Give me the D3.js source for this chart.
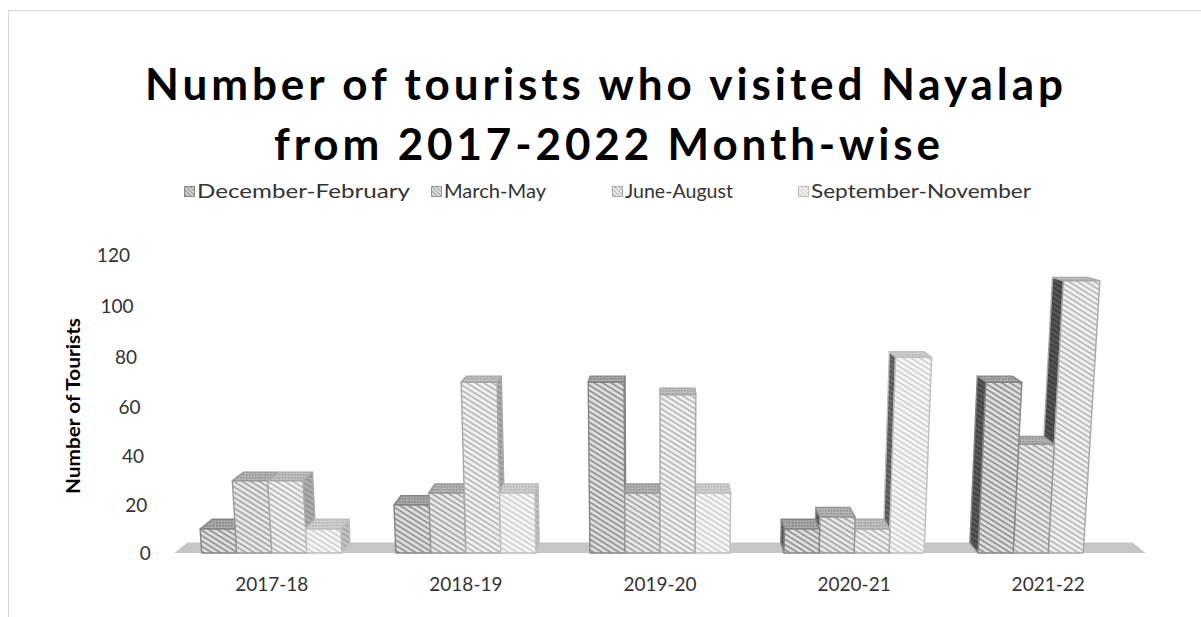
<!DOCTYPE html>
<html>
<head>
<meta charset="utf-8">
<script src="https://cdn.jsdelivr.net/npm/d3@7"></script>
<style>
  body { margin: 0; background: #fff; }
  svg { display: block; }
  text { font-family: Lato, "Open Sans", sans-serif; }
</style>
</head>
<body>
<svg id="chart" width="1201" height="617"></svg>
<script>
// ---- data ----
const categories = ["2017-18", "2018-19", "2019-20", "2020-21", "2021-22"];
const seriesNames = ["December-February", "March-May", "June-August", "September-November"];
const decFeb = [10, 20, 70, 10, 70];
const marMay = [30, 25, 25, 15, 45];
const junAug = [30, 70, 65, 10, 110];
const sepNov = [10, 25, 25, 80, 0];
const yTicks = [0, 20, 40, 60, 80, 100, 120];
const seriesValues = [decFeb, marMay, junAug, sepNov];

// ---- styling per series ----
const styles = [
  { bg: "#dedede", fg: "#8e8e8e", stroke: "#858585", top: ["#a8a8a8", "#808080"], sideR: ["#959595", "#747474"], sideL: ["#5a5a5a", "#3f3f3f"] },
  { bg: "#e7e7e7", fg: "#a3a3a3", stroke: "#979797", top: ["#b3b3b3", "#8e8e8e"], sideR: ["#a2a2a2", "#828282"], sideL: ["#626262", "#474747"] },
  { bg: "#f0f0f0", fg: "#b5b5b5", stroke: "#a8a8a8", top: ["#bfbfbf", "#9d9d9d"], sideR: ["#adadad", "#8f8f8f"], sideL: ["#555555", "#3c3c3c"] },
  { bg: "#f6f6f6", fg: "#cfcfcf", stroke: "#bfbfbf", top: ["#cfcfcf", "#b2b2b2"], sideR: ["#c0c0c0", "#a5a5a5"], sideL: ["#6a6a6a", "#505050"] }
];

const svg = d3.select("#chart");
const defs = svg.append("defs");

function stripePattern(id, bg, fg, angle, period, lw) {
  const p = defs.append("pattern")
    .attr("id", id)
    .attr("patternUnits", "userSpaceOnUse")
    .attr("width", period).attr("height", period)
    .attr("patternTransform", `rotate(${angle})`);
  p.append("rect").attr("width", period).attr("height", period).attr("fill", bg);
  p.append("rect").attr("width", period).attr("height", lw).attr("fill", fg);
}
function dotPattern(id, bg, fg) {
  const p = defs.append("pattern")
    .attr("id", id)
    .attr("patternUnits", "userSpaceOnUse")
    .attr("width", 3).attr("height", 3);
  p.append("rect").attr("width", 3).attr("height", 3).attr("fill", bg);
  p.append("rect").attr("width", 1.5).attr("height", 1.5).attr("fill", fg);
}
styles.forEach((s, i) => {
  stripePattern(`front${i}`, s.bg, s.fg, 32, 4.5, 1.6);
  stripePattern(`sideR${i}`, s.sideR[0], s.sideR[1], 32, 4.5, 1.6);
  stripePattern(`sideL${i}`, s.sideL[0], s.sideL[1], 32, 4.5, 1.6);
  dotPattern(`top${i}`, s.top[0], s.top[1]);
  stripePattern(`leg${i}`, s.bg, s.fg, 45, 3, 1.2);
});

// ---- chart frame ----
svg.append("rect")
  .attr("x", 8.5).attr("y", 10.5).attr("width", 1400).attr("height", 800)
  .attr("fill", "none").attr("stroke", "#d9d9d9").attr("stroke-width", 1);

// ---- title ----
const title = svg.append("g").attr("font-weight", 700).attr("font-size", 44).attr("fill", "#000");
title.append("text").attr("x", 604).attr("y", 100).attr("text-anchor", "middle")
  .attr("textLength", 918).attr("lengthAdjust", "spacing")
  .text("Number of tourists who visited Nayalap");
title.append("text").attr("x", 607).attr("y", 160).attr("text-anchor", "middle")
  .attr("textLength", 666).attr("lengthAdjust", "spacing")
  .text("from 2017-2022 Month-wise");

// ---- legend ----
const legendX = [184, 431, 612, 798];
const legendW = [213, 102, 108, 220];
const legend = svg.append("g");
seriesNames.forEach((name, i) => {
  legend.append("rect")
    .attr("x", legendX[i] + 0.5).attr("y", 186.5).attr("width", 10).attr("height", 10)
    .attr("fill", `url(#leg${i})`).attr("stroke", styles[i].stroke).attr("stroke-width", 1);
  legend.append("text")
    .attr("x", legendX[i] + 13).attr("y", 198)
    .attr("font-size", 19).attr("fill", "#333")
    .attr("textLength", legendW[i]).attr("lengthAdjust", "spacingAndGlyphs")
    .text(name);
});

// ---- 3D projection (pinhole camera tilted down) ----
const cam = { f: 638, ox: 660, oy: 206, h: 401, d: 605, tilt: 5 * Math.PI / 180 };
function proj(X, Y, Z) {
  const s = Math.sin(cam.tilt), c = Math.cos(cam.tilt);
  const vy = Y - cam.h, vz = Z + cam.d;
  const yc = vy * c + vz * s;
  const zc = -vy * s + vz * c;
  return [cam.ox + cam.f * X / zc, cam.oy - cam.f * yc / zc];
}
const poly = pts => pts.map(p => proj(...p).map(v => v.toFixed(2)).join(",")).join(" ");

// scales in world units
const x0 = d3.scaleBand().domain(categories).range([-485, 485]).paddingInner(0).paddingOuter(0);
const x1 = d3.scaleBand().domain(seriesNames).range([0, x0.bandwidth()]).paddingInner(0).paddingOuter(0.77);
const y = d3.scaleLinear().domain([0, 120]).range([0, 300.8]);
const floorDepth = 17, barDepth = 17;

// floor
svg.append("polygon")
  .attr("points", poly([[-485, 0, 0], [485, 0, 0], [485, 0, floorDepth], [-485, 0, floorDepth]]))
  .attr("fill", "#c6c6c6");

// bars, drawn from the outside toward the centre so nearer sides overlap correctly
const bars = [];
categories.forEach((cat, ci) => {
  seriesNames.forEach((ser, si) => {
    const v = seriesValues[si][ci];
    if (v <= 0) return;
    const xa = x0(cat) + x1(ser), xb = xa + x1.bandwidth();
    bars.push({ cat, ser, si, v, xa, xb });
  });
});
bars.sort((a, b) => Math.abs(b.xa + b.xb) - Math.abs(a.xa + a.xb));

const barG = svg.append("g");
bars.forEach(b => {
  const g = barG.append("g");
  const H = y(b.v), D = barDepth, st = styles[b.si];
  const common = sel => sel.attr("stroke", st.stroke).attr("stroke-width", 1.4).attr("stroke-linejoin", "round");
  if (b.xb < 0) {
    g.append("polygon").attr("points", poly([[b.xb, 0, 0], [b.xb, 0, D], [b.xb, H, D], [b.xb, H, 0]]))
      .attr("fill", `url(#sideR${b.si})`).call(common);
  } else if (b.xa > 0) {
    g.append("polygon").attr("points", poly([[b.xa, 0, 0], [b.xa, 0, D], [b.xa, H, D], [b.xa, H, 0]]))
      .attr("fill", `url(#sideL${b.si})`).call(common);
  }
  g.append("polygon").attr("points", poly([[b.xa, H, 0], [b.xb, H, 0], [b.xb, H, D], [b.xa, H, D]]))
    .attr("fill", `url(#top${b.si})`).call(common);
  g.append("polygon").attr("points", poly([[b.xa, 0, 0], [b.xb, 0, 0], [b.xb, H, 0], [b.xa, H, 0]]))
    .attr("fill", `url(#front${b.si})`).call(common);
});

// value axis labels along the left edge of the floor
const yAxis = svg.append("g").attr("font-size", 19).attr("fill", "#333");
yTicks.forEach(t => {
  const p = proj(-485, y(t), 0);
  yAxis.append("text").attr("x", p[0] - 24).attr("y", p[1]).attr("dy", "0.35em")
    .attr("text-anchor", "end").text(t);
});

// category labels
const xAxis = svg.append("g").attr("font-size", 19).attr("fill", "#333");
categories.forEach(cat => {
  const p = proj(x0(cat) + x0.bandwidth() / 2, 0, 0);
  xAxis.append("text").attr("x", p[0]).attr("y", 591).attr("text-anchor", "middle").text(cat);
});

// axis title
svg.append("text")
  .attr("transform", "translate(80,406) rotate(-90)")
  .attr("text-anchor", "middle").attr("font-size", 18).attr("font-weight", 700).attr("fill", "#000")
  .attr("textLength", 176).attr("lengthAdjust", "spacingAndGlyphs")
  .text("Number of Tourists");
</script>
</body>
</html>
